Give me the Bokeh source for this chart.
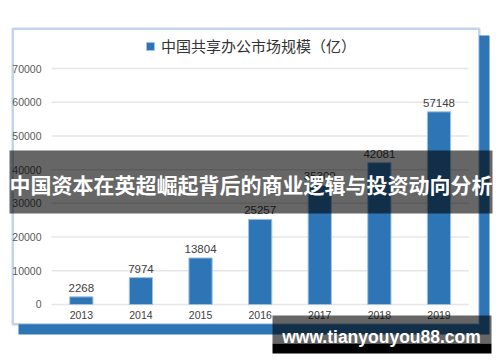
from bokeh.plotting import figure
from bokeh.models import (ColumnDataSource, Range1d, FixedTicker, LinearAxis,
                          BasicTickFormatter, BoxAnnotation, Label, Legend, LegendItem)
from bokeh.embed import file_html
from bokeh.resources import INLINE
from bokeh.core.properties import value

# ---- data ----
years = ["2013", "2014", "2015", "2016", "2017", "2018", "2019"]
market_size = [2268, 7974, 13804, 25257, 35300, 42081, 57148]
size_labels = ["2268", "7974", "13804", "25257", "35300", "42081", "57148"]
y_ticks = [0, 10000, 20000, 30000, 40000, 50000, 60000, 70000]
series_name = "中国共享办公市场规模（亿）"
banner_text = "中国资本在英超崛起背后的商业逻辑与投资动向分析"
watermark_text = "www.tianyouyou88.com"

BLUE = "#2e75b6"
W, H = 500, 362

x_pos = list(range(len(years)))
src = ColumnDataSource(dict(x=x_pos, size=market_size, label=size_labels))

# frame covers whole canvas; axes are pinned with fixed_location
p = figure(width=W, height=H, x_range=Range1d(-1.356, 7.032),
           y_range=Range1d(-17203.4, 90169.5), output_backend="svg",
           toolbar_location=None, x_axis_type=None, y_axis_type=None,
           min_border=0, border_fill_color="white", background_fill_color="white",
           outline_line_color=None)
p.xgrid.grid_line_color = None
p.ygrid.grid_line_color = None


def cbox(l, r, t, b, **kw):
    return BoxAnnotation(left=l, right=r, top=t, bottom=b,
                         left_units="canvas", right_units="canvas",
                         top_units="canvas", bottom_units="canvas", **kw)


# card shadow and card
p.add_layout(cbox(18, 489, 35, 334, fill_color=BLUE, fill_alpha=1, line_color=None,
                  level="image"))
p.add_layout(cbox(12.25, 478.75, 28.25, 323.75, fill_color="white", fill_alpha=1,
                  line_color=BLUE, line_width=2.5, level="image"))

# grid lines across the category band
p.segment(x0=[-0.5] * len(y_ticks), x1=[len(years) - 0.5] * len(y_ticks),
          y0=y_ticks, y1=y_ticks, line_color="#e6e6e6", line_width=1.5)

bars = p.vbar(x="x", top="size", width=0.39, source=src, fill_color=BLUE,
              line_color="#9dc3e6", line_width=1)
p.text(x="x", y="size", text="label", source=src, text_align="center",
       text_baseline="bottom", y_offset=-5, text_font=value("Liberation Sans"),
       text_font_size="11.5px", text_color="#404040")

# axes
yax = LinearAxis(ticker=FixedTicker(ticks=y_ticks),
                 formatter=BasicTickFormatter(use_scientific=False),
                 fixed_location=-0.5)
xax = LinearAxis(ticker=FixedTicker(ticks=x_pos),
                 major_label_overrides={i: y for i, y in zip(x_pos, years)},
                 fixed_location=0)
for ax in (xax, yax):
    ax.axis_line_color = None
    ax.major_tick_line_color = None
    ax.minor_tick_line_color = None
    ax.major_label_text_font = "Liberation Sans"
    ax.major_label_text_font_size = "10.5px"
yax.major_label_standoff = 4
xax.major_label_standoff = 1
yax.major_label_text_color = "#595959"
xax.major_label_text_color = "#404040"
p.add_layout(yax, "left")
p.add_layout(xax, "below")

legend = Legend(items=[LegendItem(label=series_name, renderers=[bars])],
                location=(145, 306), orientation="horizontal",
                border_line_color=None, background_fill_alpha=0,
                glyph_width=10, glyph_height=10, padding=0, margin=0,
                label_standoff=6, label_text_font="Noto Sans CJK SC",
                label_text_font_size="15px", label_text_color="#333333")
p.add_layout(legend)

# banner overlay
p.add_layout(cbox(9, 492, 150, 213, fill_color="black", fill_alpha=0.6, line_color=None,
                  level="overlay"))
p.add_layout(Label(x=250.5, y=183.5, x_units="canvas", y_units="canvas", text=banner_text,
                   text_align="center", text_baseline="middle",
                   text_font="Noto Sans CJK SC", text_font_style="bold",
                   text_font_size="21px", text_color="white", level="overlay"))

# watermark
p.add_layout(cbox(272, 491, 315, 343, fill_color="black", fill_alpha=0.6, line_color=None,
                  level="overlay"))
p.add_layout(cbox(272, 491, 343, 353, fill_color="black", fill_alpha=1, line_color=None,
                  level="overlay"))
p.add_layout(Label(x=381, y=336, x_units="canvas", y_units="canvas", text=watermark_text,
                   text_align="center", text_baseline="middle",
                   text_font="Liberation Sans", text_font_style="bold",
                   text_font_size="17.5px", text_color="white", level="overlay"))

open("out.html", "w").write(file_html(p, INLINE))
